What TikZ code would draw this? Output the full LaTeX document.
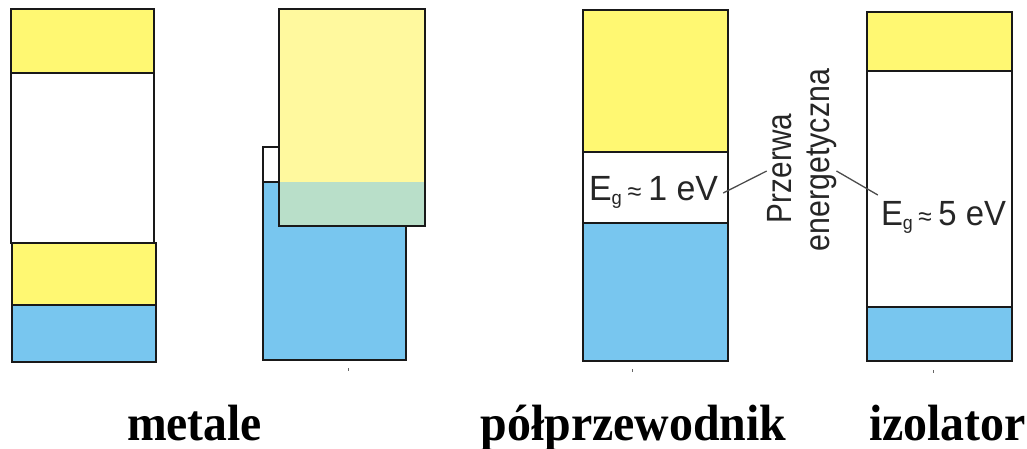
\documentclass[tikz,border=0pt]{standalone}
\usepackage{fontspec}
\setmainfont{Liberation Sans}
\newfontfamily\lserif{Liberation Serif}
\definecolor{bandY}{HTML}{FFF872}
\definecolor{bandLY}{HTML}{FFF99E}
\definecolor{bandG}{HTML}{B9DFC9}
\definecolor{bandB}{HTML}{78C6EF}
\begin{document}
\begin{tikzpicture}[x=1pt,y=-1pt,
  band/.style={draw=black!90, line width=2.8pt},
  lead/.style={draw=black!70, line width=1.3pt},
  lbl/.style={inner sep=0pt, anchor=base, font=\fontsize{35}{40}\selectfont, text=black!85},
  title/.style={inner sep=0pt, anchor=base, font=\lserif\bfseries\fontsize{51}{60}\selectfont},
  tickmark/.style={draw=black!60, line width=1pt}]
\useasboundingbox (0,0) rectangle (1027,449);
% metal 1
\draw[band, fill=bandY] (11,9) rectangle (154,73);
\draw[band, fill=white] (11,73) rectangle (154,243);
\draw[band, fill=bandY] (12,243) rectangle (156,305);
\draw[band, fill=bandB] (12,305) rectangle (156,362);
% metal 2
\draw[band, fill=bandB] (263,182) rectangle (406,360);
\fill[bandLY] (279,9) rectangle (425,182);
\fill[bandG] (279,182) rectangle (425,226);
\draw[band] (279,9) rectangle (425,226);
\draw[band, fill=white] (263,147) rectangle (279,182);
% semiconductor
\draw[band, fill=bandY] (583,10) rectangle (728,152);
\draw[band, fill=white] (583,152) rectangle (728,223);
\draw[band, fill=bandB] (583,223) rectangle (728,361);
% insulator
\draw[band, fill=bandY] (867,12) rectangle (1012,71);
\draw[band, fill=white] (867,71) rectangle (1012,307);
\draw[band, fill=bandB] (867,307) rectangle (1012,361);
% small marks
\draw[tickmark] (348,368) -- (348,371);
\draw[tickmark] (632,369) -- (632,372);
\draw[tickmark] (933,370) -- (933,373);
% labels
\node[lbl] (eg1) at (653.5,200) {\resizebox{129pt}{\height}{E\raisebox{-4pt}{\fontsize{19}{19}\selectfont g}\hspace{6pt}{\fontsize{26}{26}\selectfont ≈}\hspace{7pt}1 eV}};
\node[lbl] (eg2) at (943.5,225) {\resizebox{125pt}{\height}{E\raisebox{-4pt}{\fontsize{19}{19}\selectfont g}\hspace{6pt}{\fontsize{26}{26}\selectfont ≈}\hspace{7pt}5 eV}};
\node[lbl, rotate=90] (gap1) at (791,168.5) {\resizebox{109pt}{\height}{Przerwa}};
\node[lbl, rotate=90] (gap2) at (829,160) {\resizebox{182pt}{\height}{energetyczna}};
\coordinate (c1a) at ([xshift=5pt,yshift=7pt]eg1.base east);
\coordinate (c1b) at ([yshift=-2.5pt]gap1.north);
\coordinate (c2a) at ([yshift=-11pt]gap2.south);
\coordinate (c2b) at ([xshift=-3pt,yshift=30pt]eg2.base west);
\draw[lead] (c1a) -- (c1b);
\draw[lead] (c2a) -- (c2b);
% titles
\node[title] (tm) at (194.5,440) {\resizebox{135pt}{\height}{metale}};
\node[title] (tp) at (633.5,440) {\resizebox{306pt}{\height}{półprzewodnik}};
\node[title] (ti) at (947.5,440) {\resizebox{157pt}{\height}{izolator}};
\end{tikzpicture}
\end{document}
